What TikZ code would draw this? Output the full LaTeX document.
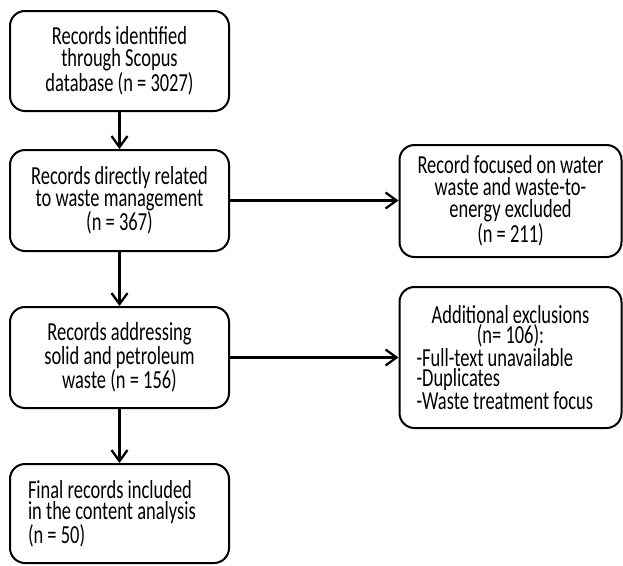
\documentclass[tikz,border=0pt]{standalone}
\usepackage{fontspec}
\setmainfont{Carlito}[FakeStretch=0.71]
\usetikzlibrary{arrows.meta}
\begin{document}
\begin{tikzpicture}[x=1pt,y=-1pt,
  box/.style={draw=black, line width=2pt, rounded corners=15pt, fill=white,
    font=\fontsize{26}{22}\selectfont, align=center, inner sep=0pt},
  leftbox/.style={box, align=left, execute at begin node={\spaceskip=0pt\xspaceskip=0pt\relax}},
  flow/.style={line width=2.3pt, -{Straight Barb[length=11pt,width=16pt,line width=2.3pt]}}
]
\useasboundingbox (0,0) rectangle (623,565);

% main column
\node[box, minimum width=219pt, minimum height=100pt] (b1) at (119.5,61)
  {Records identified\\through Scopus\\database (n = 3027)};
\node[box, minimum width=219pt, minimum height=101pt] (b2) at (119.5,200.5)
  {Records directly related\\to waste management\\(n = 367)};
\node[box, minimum width=219pt, minimum height=101pt] (b3) at (119.5,357.5)
  {Records addressing\\solid and petroleum\\waste (n = 156)};
\node[leftbox, minimum width=219pt, minimum height=99pt,
      text width=183pt, inner xsep=18pt,
      font=\fontsize{26}{21}\selectfont] (b4) at (119.5,513.5)
  {\spaceskip=0pt\xspaceskip=0pt
   Final records included\\in the content analysis\\(n = 50)};

% exclusion boxes
\node[box, minimum width=222pt, minimum height=112pt] (r1) at (510.5,201)
  {Record focused on water\\waste and waste-to-\\energy excluded\\(n = 211)};
\node[leftbox, minimum width=222pt, minimum height=141pt,
      text width=188pt, inner xsep=17pt,
      font=\fontsize{26}{20.5}\selectfont] (r2) at (510.5,357.5)
  {\spaceskip=0pt\xspaceskip=0pt
   {\centering Additional exclusions\\(n= 106):\par}
   -Full-text unavailable\\-Duplicates\\-Waste treatment focus};

% connectors
\draw[flow] (b1.south) -- (b2.north);
\draw[flow] (b2.south) -- (b3.north);
\draw[flow] (b3.south) -- (b4.north);
\draw[flow] (b2.east) -- (b2.east -| r1.west);
\draw[flow] (b3.east) -- (b3.east -| r2.west);
\end{tikzpicture}
\end{document}
